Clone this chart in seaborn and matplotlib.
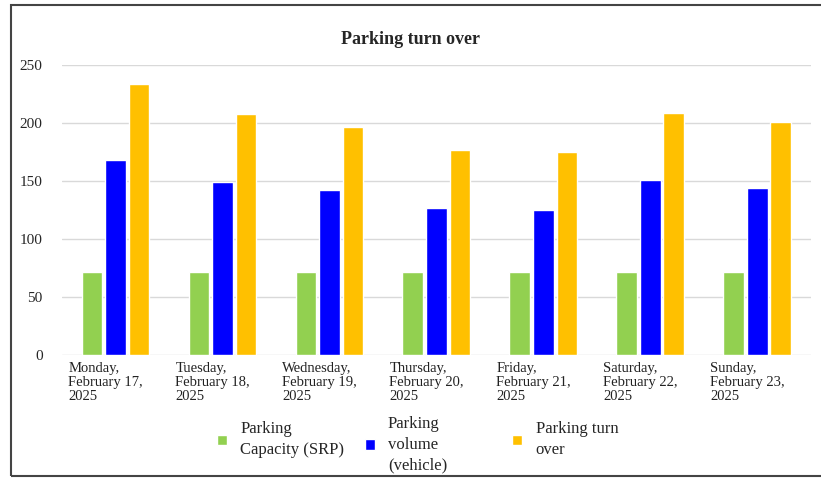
import pandas as pd
import numpy as np
import matplotlib
matplotlib.use("Agg")
import matplotlib.pyplot as plt
import seaborn as sns

days = ["Monday,\nFebruary 17,\n2025", "Tuesday,\nFebruary 18,\n2025",
        "Wednesday,\nFebruary 19,\n2025", "Thursday,\nFebruary 20,\n2025",
        "Friday,\nFebruary 21,\n2025", "Saturday,\nFebruary 22,\n2025",
        "Sunday,\nFebruary 23,\n2025"]
capacity = [72, 72, 72, 72, 72, 72, 72]
volume = [168, 149, 142, 127, 125, 151, 144]
turnover = [234, 208, 197, 177, 175, 209, 201]
series = ["Parking\nCapacity (SRP)", "Parking\nvolume\n(vehicle)", "Parking turn\nover"]
colors = ["#92D050", "#0000FF", "#FFC000"]

df = pd.DataFrame({"day": days * 3,
                   "value": capacity + volume + turnover,
                   "series": [series[0]] * 7 + [series[1]] * 7 + [series[2]] * 7})

sns.set_style("white")
plt.rcParams["font.family"] = ["Liberation Serif", "DejaVu Serif"]

fig = plt.figure(figsize=(8.21, 4.78), dpi=100)
ax = fig.add_axes([0.0755, 0.257, 0.912, 0.607])

sns.barplot(data=df, x="day", y="value", hue="series", palette=colors,
            width=0.66, gap=0.12, saturation=1, ax=ax, legend=True)

ax.set_ylim(0, 250)
ax.set_xlim(-0.5, 6.5)
ax.set_yticks(range(0, 251, 50))
ax.yaxis.grid(True, color="#d9d9d9", linewidth=1)
ax.set_axisbelow(True)
for s in ax.spines.values():
    s.set_visible(False)
ax.tick_params(axis="y", length=0, pad=14, labelsize=11)
ax.set_xlabel("")
ax.set_ylabel("")
ax.set_xticks(range(7))
ax.set_xticklabels([])
ax.tick_params(axis="x", length=0)
for i, d in enumerate(days):
    ax.text(i - 0.44, -6, d, ha="left", va="top", fontsize=10.5,
            linespacing=1.1, color="#222222")

fig.text(0.5, 0.918, "Parking turn over", ha="center", va="center",
         fontsize=13, fontweight="bold")

h, l = ax.get_legend_handles_labels()
ax.get_legend().remove()
xs = [0.264, 0.444, 0.624]
ys = [0.08, 0.07, 0.08]
for hh, ll, x, y in zip(h, l, xs, ys):
    fig.legend([hh], [ll], loc="center left", bbox_to_anchor=(x, y),
               frameon=False, fontsize=12, handlelength=0.6, handleheight=0.6,
               handletextpad=0.8, borderpad=0, borderaxespad=0)
for leg in fig.legends:
    for t in leg.get_texts():
        t.set_linespacing(1.4)

fig.patches.append(plt.Rectangle((0.014, 0.004), 1.0, 0.985, transform=fig.transFigure,
                                 fill=False, edgecolor="#444444", linewidth=1.5))

fig.savefig("out.png", dpi=100)
